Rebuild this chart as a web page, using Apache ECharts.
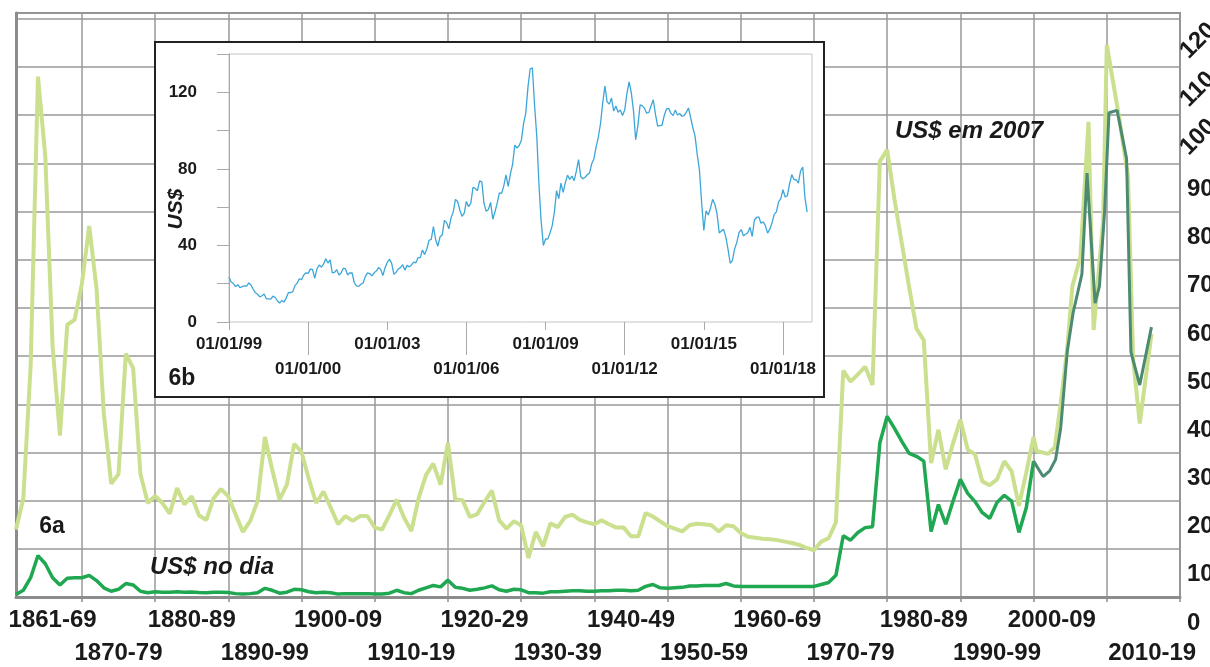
<!DOCTYPE html>
<html>
<head>
<meta charset="utf-8">
<script src="https://cdn.jsdelivr.net/npm/echarts@6/dist/echarts.min.js"></script>
<style>
  html, body { margin: 0; padding: 0; background: #fff; }
  #main { width: 1210px; height: 667px; }
</style>
</head>
<body>
<div id="main"></div>
<script>
// 6a - preço anual do petróleo, 1861-2000 (um valor por ano)
var realAnnual = [
  14, 20.5, 48, 108, 91.5, 52, 33.5, 56.5, 57.5, 65,
  77, 64, 38, 23.5, 25.5, 50.5, 47.5, 25.5, 19.5, 21,
  19.5, 17.3, 22.6, 19.2, 20.9, 16.9, 16, 20.5, 22.4, 20.9,
  17.1, 13.5, 15.8, 19.9, 33.2, 26.4, 20.2, 23.3, 31.8, 30.1,
  24.5, 19.5, 21.9, 18.5, 15.1, 16.8, 15.8, 16.8, 16.8, 14.4,
  14, 17, 20.2, 16.5, 13.7, 20.5, 25.3, 27.7, 23.3, 32,
  20.3, 20.1, 16.6, 17.2, 19.7, 22.1, 15.9, 14.2, 15.7, 14.9,
  8.1, 13.5, 10.5, 15.3, 14.5, 16.6, 17.1, 16, 15.5, 15.1,
  15.9, 15.1, 14.4, 14.4, 12.6, 12.6, 17.4, 16.7, 15.7, 14.7,
  14.2, 13.6, 14.9, 15.2, 15.1, 14.9, 13.6, 14.9, 14.7, 13.3,
  12.5, 12.3, 12.1, 12, 11.8, 11.5, 11.2, 10.8, 10.2, 9.7,
  11.5, 12.2, 15.5, 47, 44.7, 46.2, 47.8, 44, 90.4, 92.8,
  82.5, 73.4, 64.3, 55.7, 53.3, 27.8, 34.7, 26.5, 31.9, 36.8,
  30.6, 29.6, 24, 23.2, 24.4, 28.2, 26.1, 18.9, 25.8, 33.2
];
var nominalAnnual = [
  0.5, 1.4, 4, 8.6, 6.9, 4, 2.5, 3.9, 4, 4,
  4.5, 3.4, 1.9, 1.2, 1.6, 2.8, 2.5, 1.2, 0.9, 1.1,
  1, 1, 1.1, 1, 1.05, 0.95, 0.9, 1, 1, 0.95,
  0.7, 0.6, 0.7, 0.9, 1.8, 1.4, 0.8, 1, 1.6, 1.5,
  1.1, 0.9, 1, 0.9, 0.6, 0.7, 0.7, 0.7, 0.7, 0.6,
  0.6, 0.8, 1.4, 0.9, 0.7, 1.4, 1.9, 2.4, 2.1, 3.5,
  2, 1.8, 1.4, 1.6, 1.9, 2.3, 1.5, 1.2, 1.6, 1.5,
  0.9, 0.9, 0.8, 1.1, 1.1, 1.2, 1.3, 1.3, 1.2, 1.2,
  1.3, 1.3, 1.4, 1.4, 1.3, 1.4, 2.2, 2.6, 1.9, 1.8,
  1.9, 2, 2.3, 2.3, 2.4, 2.4, 2.4, 2.8, 2.3, 2.2,
  2.2, 2.2, 2.2, 2.2, 2.2, 2.2, 2.2, 2.2, 2.2, 2.2,
  2.6, 3, 4.5, 12.7, 11.8, 13.4, 14.4, 14.6, 32, 37.5,
  35, 32.3, 29.8, 29.2, 28.2, 13.6, 19.2, 15.1, 19.9, 24.4,
  21.5, 19.8, 17.5, 16.3, 19.6, 21.1, 19.9, 13.4, 18.5, 28.2
];

// depois de 2000 os pontos nao caem em anos inteiros
var realRecentYears = [2000.4, 2002, 2002.9, 2003.7, 2004.6, 2005.3, 2006.4, 2007.5, 2008.2, 2009.5, 2010, 2011.7, 2012.9, 2013.6, 2014.5, 2016.1];
var realRecent      = [30.3, 29.7, 31.1, 40.2, 51.6, 64.5, 70.6, 98.6, 55.4, 78, 114.6, 99.4, 87.3, 49.3, 36, 54.6];
var nomRecentYears  = [2000, 2001.3, 2002.2, 2003, 2003.7, 2004.6, 2005.4, 2006.6, 2007.3, 2008.4, 2009.0, 2009.7, 2010.3, 2011.4, 2012.7, 2013.3, 2014.5, 2016.1];
var nomRecent       = [28.2, 25, 26.2, 28.5, 35, 51, 59, 67, 88, 61, 64.5, 80, 100.5, 101, 91, 50.8, 44, 56];

var decadeLabels = ['1861-69', '1870-79', '1880-89', '1890-99', '1900-09', '1910-19', '1920-29', '1930-39',
                    '1940-49', '1950-59', '1960-69', '1970-79', '1980-89', '1990-99', '2000-09', '2010-19'];
var decadeLabelAt = [1866, 1875, 1885, 1895, 1905, 1915, 1925, 1935, 1945, 1955, 1965, 1975, 1985, 1995, 2002.5, 2016.2];
var decadeLines = [1870, 1880, 1890, 1900, 1910, 1920, 1930, 1940, 1950, 1960, 1970, 1980, 1990, 2000, 2010, 2020];

// 6b - Brent, media mensal, jan/1997 a dez/2018
var brentMonthly = [
  23.5, 20.9, 20.1, 18.5, 19.5, 17.9, 18.5, 18.9, 18.7, 20.4, 19.3, 17.1,
  15.3, 14.5, 13.1, 13.7, 14.6, 12.1, 12.1, 11.9, 13.5, 12.8, 11.1, 9.9,
  11.2, 10.4, 12.5, 15.3, 15.4, 15.8, 19.0, 20.3, 22.6, 22.1, 24.6, 25.7,
  25.4, 27.6, 27.5, 22.8, 27.7, 29.8, 28.7, 30.2, 33.0, 30.8, 32.5, 25.6,
  25.9, 27.4, 24.5, 25.6, 28.1, 27.7, 24.6, 25.7, 25.6, 20.5, 18.9, 18.6,
  19.7, 20.4, 23.7, 25.7, 25.3, 24.1, 25.7, 26.6, 28.4, 27.5, 24.3, 28.4,
  31.2, 32.8, 30.6, 25.0, 25.9, 27.7, 28.4, 29.9, 27.1, 29.6, 28.8, 29.8,
  31.3, 30.9, 33.6, 33.6, 37.6, 35.2, 38.2, 42.7, 43.2, 49.8, 43.1, 39.6,
  44.5, 45.5, 53.1, 51.9, 48.7, 54.4, 57.5, 64.0, 62.9, 58.5, 55.2, 56.9,
  63.0, 60.2, 62.1, 70.3, 69.8, 68.6, 73.7, 73.2, 62.0, 57.8, 58.8, 62.5,
  53.7, 57.6, 62.1, 67.5, 67.2, 71.1, 76.9, 70.8, 77.2, 82.3, 92.4, 90.9,
  92.2, 95.0, 103.6, 109.1, 122.8, 132.3, 132.7, 113.2, 97.2, 71.6, 52.5, 40.0,
  43.4, 43.3, 46.5, 50.2, 57.3, 68.6, 64.4, 72.5, 67.7, 72.8, 76.7, 74.5,
  76.2, 73.8, 78.8, 84.8, 76.0, 74.8, 75.6, 77.0, 77.8, 82.7, 85.3, 91.5,
  96.5, 103.7, 114.6, 123.3, 115.0, 113.8, 117.0, 110.2, 112.8, 109.6, 110.8, 107.9,
  110.7, 119.3, 125.5, 119.8, 110.3, 95.2, 102.6, 113.4, 112.9, 111.7, 109.1, 109.5,
  113.0, 116.1, 108.5, 102.3, 102.6, 102.9, 107.9, 111.3, 111.6, 109.1, 107.8, 110.8,
  108.1, 108.9, 107.5, 107.8, 109.5, 111.8, 106.8, 101.6, 97.1, 87.4, 79.4, 62.3,
  47.8, 58.1, 55.9, 59.5, 64.1, 61.5, 56.6, 46.5, 47.6, 48.4, 44.3, 38.0,
  30.7, 32.2, 38.2, 41.6, 46.7, 48.3, 45.0, 45.8, 46.6, 49.5, 44.7, 53.3,
  54.6, 54.9, 51.6, 52.3, 50.3, 46.4, 48.5, 51.7, 56.2, 57.5, 62.7, 64.4,
  69.1, 65.3, 66.0, 72.1, 77.0, 74.4, 74.3, 72.5, 78.9, 81.0, 64.8, 57.4
];
var brentFirstYear = 1997;
var insetTicksUpper = [1997, 2003, 2009, 2015];
var insetLabelsUpper = ['01/01/99', '01/01/03', '01/01/09', '01/01/15'];
var insetTicksLower = [2000, 2006, 2012, 2018];
var insetLabelsLower = ['01/01/00', '01/01/06', '01/01/12', '01/01/18'];

var years = [];
for (var y = 1861; y <= 2000; y++) years.push(y);

function pairs(xs, ys) {
  return xs.map(function (x, i) { return [x, ys[i]]; });
}

var realData = pairs(years, realAnnual).concat(pairs(realRecentYears, realRecent));
var nominalData = pairs(years, nominalAnnual);
var nominalRecentData = pairs(nomRecentYears, nomRecent);
var brentData = brentMonthly.map(function (v, i) { return [brentFirstYear + i / 12, v]; });

var FONT = '"Liberation Sans", Arial, sans-serif';
var INK = '#1a1a1a';

var chart = echarts.init(document.getElementById('main'), null, { renderer: 'canvas' });

var option = {
  animation: false,
  backgroundColor: '#fff',
  textStyle: { fontFamily: FONT },
  grid: [
    { left: 16, right: 30, top: 13, bottom: 70, containLabel: false, outerBoundsMode: 'none',
      show: true, borderColor: '#8c8c8c', borderWidth: 2 },
    { left: 229, right: 398, top: 54, bottom: 345, containLabel: false, outerBoundsMode: 'none',
      show: true, borderColor: '#c4c4c4', borderWidth: 1, z: 6 }
  ],
  xAxis: [
    {
      type: 'value', gridIndex: 0, position: 'bottom', min: 1861, max: 2020,
      axisLine: { show: true, lineStyle: { color: '#8c8c8c', width: 3 } },
      axisTick: { show: true, length: 5, customValues: decadeLines, lineStyle: { color: '#8c8c8c', width: 1.5 } },
      splitLine: { show: true, lineStyle: { color: '#999', width: 1.5 } },
      axisLabel: {
        customValues: decadeLabelAt, hideOverlap: false, showMinLabel: true, showMaxLabel: true,
        margin: 9, verticalAlign: 'top',
        formatter: function (v, i) {
          var k = decadeLabelAt.indexOf(v);
          if (k < 0) k = i;
          return (k % 2 === 0 ? '{a|' : '{b|') + decadeLabels[k] + '}';
        },
        rich: {
          a: { fontSize: 24, fontWeight: 'bold', color: INK, fontFamily: FONT, lineHeight: 28 },
          b: { fontSize: 24, fontWeight: 'bold', color: INK, fontFamily: FONT, lineHeight: 94 }
        }
      }
    },
    {
      type: 'value', gridIndex: 1, position: 'bottom', min: 1997, max: 2019.1, z: 6,
      axisLine: { show: false },
      axisTick: { show: true, length: 8, customValues: insetTicksUpper, lineStyle: { color: '#aaa' } },
      splitLine: { show: false },
      axisLabel: {
        customValues: insetTicksUpper, margin: 14, hideOverlap: false, showMinLabel: true, showMaxLabel: true,
        fontSize: 17, fontWeight: 'bold', color: INK, fontFamily: FONT,
        formatter: function (v) { return insetLabelsUpper[insetTicksUpper.indexOf(v)] || ''; }
      }
    },
    {
      type: 'value', gridIndex: 1, position: 'bottom', offset: 0, min: 1997, max: 2019.1, z: 6,
      axisLine: { show: false },
      axisTick: { show: true, length: 33, customValues: insetTicksLower, lineStyle: { color: '#aaa' } },
      splitLine: { show: false },
      axisLabel: {
        customValues: insetTicksLower, margin: 39, hideOverlap: false, showMinLabel: true, showMaxLabel: true,
        fontSize: 17, fontWeight: 'bold', color: INK, fontFamily: FONT,
        formatter: function (v) { return insetLabelsLower[insetTicksLower.indexOf(v)] || ''; }
      }
    }
  ],
  yAxis: [
    {
      type: 'value', gridIndex: 0, position: 'right', min: 0, max: 121.2, interval: 10,
      axisLine: { show: false }, axisTick: { show: false },
      splitLine: { show: true, lineStyle: { color: '#999', width: 1.5 } },
      axisLabel: {
        margin: 7, fontSize: 24, fontWeight: 'bold', color: INK, fontFamily: FONT,
        verticalAlign: 'top', padding: [14, 0, 0, 0], align: 'left', showMinLabel: true,
        formatter: function (v) { return (v < 100 && v % 10 === 0) ? String(v) : ''; }
      }
    },
    {
      // rotulos 100-120 inclinados, um pouco abaixo das linhas como no original
      type: 'value', gridIndex: 0, position: 'right', min: 7.5, max: 128.7,
      axisLine: { show: false }, axisTick: { show: false }, splitLine: { show: false },
      axisLabel: {
        customValues: [100, 110, 120], rotate: 45, margin: 4, hideOverlap: false,
        fontSize: 24, fontWeight: 'bold', color: INK, fontFamily: FONT
      }
    },
    {
      type: 'value', gridIndex: 0, position: 'left', min: 0, max: 121.2,
      axisLine: { show: true, lineStyle: { color: '#8c8c8c', width: 3 } },
      axisTick: { show: false }, axisLabel: { show: false }, splitLine: { show: false }
    },
    {
      type: 'value', gridIndex: 1, min: 0, max: 140, interval: 20, z: 6,
      axisLine: { show: true, lineStyle: { color: '#aaa' } },
      axisTick: { show: true, length: 12, lineStyle: { color: '#aaa' } },
      splitLine: { show: false },
      axisLabel: {
        margin: 32, fontSize: 17, fontWeight: 'bold', color: INK, fontFamily: FONT, showMinLabel: true,
        formatter: function (v) { return v % 40 === 0 ? String(v) : ''; }
      }
    }
  ],
  graphic: [
    { type: 'rect', z: 5, silent: true,
      shape: { x: 155, y: 42, width: 669, height: 355 },
      style: { fill: '#fff', stroke: '#222', lineWidth: 2 } },
    { type: 'text', z: 10, x: 52, y: 527,
      style: { text: '6a', font: 'bold 23px ' + FONT, fill: INK, align: 'center', verticalAlign: 'middle' } },
    { type: 'text', z: 10, x: 182, y: 379,
      style: { text: '6b', font: 'bold 23px ' + FONT, fill: INK, align: 'center', verticalAlign: 'middle' } },
    { type: 'text', z: 10, x: 150, y: 567,
      style: { text: 'US$ no dia', font: 'italic bold 24px ' + FONT, fill: INK, align: 'left', verticalAlign: 'middle' } },
    { type: 'text', z: 10, x: 895, y: 131,
      style: { text: 'US$ em 2007', font: 'italic bold 24px ' + FONT, fill: INK, align: 'left', verticalAlign: 'middle' } },
    { type: 'text', z: 10, x: 176, y: 209, rotation: Math.PI / 2,
      style: { text: 'US$', font: 'italic bold 21px ' + FONT, fill: INK, align: 'center', verticalAlign: 'middle' } }
  ],
  series: [
    {
      name: 'US$ em 2007', type: 'line', xAxisIndex: 0, yAxisIndex: 0, z: 2,
      data: realData, showSymbol: false, symbol: 'none',
      lineStyle: { color: '#cbe08e', width: 4 }
    },
    {
      name: 'US$ no dia', type: 'line', xAxisIndex: 0, yAxisIndex: 0, z: 3,
      data: nominalData, showSymbol: false, symbol: 'none',
      lineStyle: { color: '#1fa851', width: 3.5 }
    },
    {
      name: 'US$ no dia (2000-)', type: 'line', xAxisIndex: 0, yAxisIndex: 0, z: 3,
      data: nominalRecentData, showSymbol: false, symbol: 'none',
      lineStyle: { color: '#4d8a72', width: 3 }
    },
    {
      name: 'Brent', type: 'line', xAxisIndex: 1, yAxisIndex: 3, z: 7,
      data: brentData, showSymbol: false, symbol: 'none',
      lineStyle: { color: '#3ca6d9', width: 1.3 }
    }
  ]
};

chart.setOption(option);
</script>
</body>
</html>
